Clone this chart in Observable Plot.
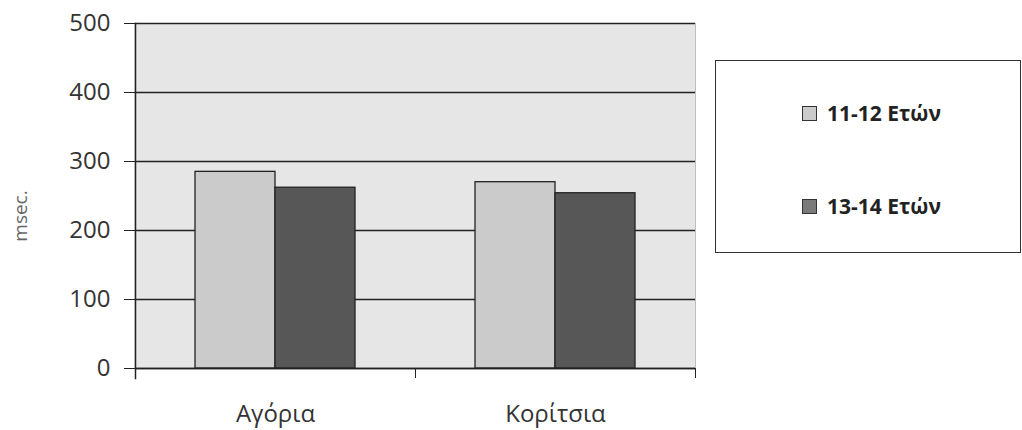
<!DOCTYPE html>
<html><head><meta charset="utf-8">
<script src="https://cdn.jsdelivr.net/npm/d3@7"></script>
<script src="https://cdn.jsdelivr.net/npm/@observablehq/plot@0.6"></script>
<style>
body{margin:0;background:#fff;}
#wrap{position:relative;width:1022px;height:430px;font-family:"Open Sans",sans-serif;}
#legend{position:absolute;left:715px;top:60px;width:306px;height:193px;border:1.5px solid #333;box-sizing:border-box;}
.item{position:absolute;left:86px;display:flex;align-items:center;font-weight:bold;font-size:21px;color:#222;transform:translateY(-50%);}
.sw{width:13px;height:13px;border:1px solid #333;margin-right:10px;}
</style></head><body><div id="wrap"></div>
<script>
const groups = ["Αγόρια", "Κορίτσια"];
const series = ["11-12 Ετών", "13-14 Ετών"];
const values1112 = [285, 270];
const values1314 = [262, 254];
const yTicks = [0, 100, 200, 300, 400, 500];
const colors = ["#cbcbcb", "#575757"];
const legendSwatch = ["#cbcbcb", "#7a7a7a"];

const data = groups.flatMap((g, i) => [
  {group: g, series: series[0], value: values1112[i]},
  {group: g, series: series[1], value: values1314[i]}
]);

const W = 1022, H = 430, mL = 135, mR = 327, mT = 23, mB = 62;
const facetHalf = (W - mL - mR) / groups.length / 2;

const chart = Plot.plot({
  width: W, height: H,
  marginLeft: mL, marginRight: mR, marginTop: mT, marginBottom: mB,
  style: {fontFamily: '"Open Sans", sans-serif', background: "transparent", color: "#222", overflow: "visible"},
  fx: {domain: groups, padding: 0, label: null},
  x: {domain: series, paddingInner: 0, paddingOuter: 0.75, axis: null},
  y: {domain: [0, 500], label: null},
  color: {domain: series, range: colors},
  marks: [
    Plot.frame({fill: "#e6e6e6", insetLeft: -1.5}),
    Plot.frame({anchor: "right", stroke: "#bdbdbd", facetAnchor: "right"}),
    Plot.gridY(yTicks, {stroke: "#222", strokeOpacity: 1, strokeWidth: 1.3}),
    Plot.barY(data, {fx: "group", x: "series", y: "value", fill: "series", stroke: "#222", strokeWidth: 1.3}),
    Plot.ruleY([0], {stroke: "#222", strokeWidth: 1.5}),
    Plot.frame({anchor: "left", stroke: "#222", strokeWidth: 1.5, facetAnchor: "left", insetBottom: -10}),
    Plot.axisY(yTicks, {tickSize: 11, tickPadding: 14, fontSize: 24, stroke: "#222", fill: "#333", label: null}),
    Plot.axisFx({anchor: "bottom", tickSize: 0, tickPadding: 36, fontSize: 24, fill: "#333", label: null}),
    Plot.axisFx({anchor: "bottom", tickSize: 10, tickFormat: () => "", dx: facetHalf, stroke: "#222", label: null}),
    Plot.text(["msec."], {fx: () => groups[0], frameAnchor: "left", textAnchor: "middle", rotate: -90, dx: -115, dy: 20, fontSize: 19, fill: "#666"})
  ]
});
const wrap = document.getElementById("wrap");
wrap.appendChild(chart);

const legend = document.createElement("div");
legend.id = "legend";
const rowsY = [52, 145];
series.forEach((s, i) => {
  const it = document.createElement("div");
  it.className = "item";
  it.style.top = rowsY[i] + "px";
  const sw = document.createElement("span");
  sw.className = "sw";
  sw.style.background = legendSwatch[i];
  const tx = document.createElement("span");
  tx.textContent = s;
  it.appendChild(sw); it.appendChild(tx);
  legend.appendChild(it);
});
wrap.appendChild(legend);
</script></body></html>
